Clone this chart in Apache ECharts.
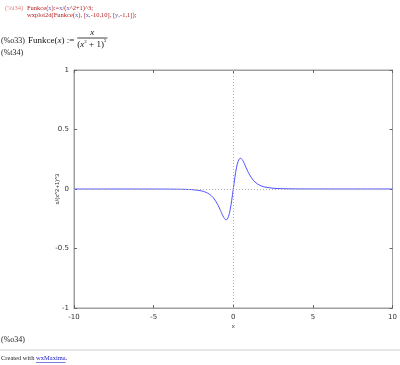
<!DOCTYPE html>
<html><head><meta charset="utf-8">
<script src="https://cdn.jsdelivr.net/npm/echarts@6/dist/echarts.min.js"></script>
<style>html,body{margin:0;padding:0;background:#fff}#c{width:400px;height:365px}</style>
</head><body><div id="c"></div>
<script>
// values
var xs = [-10,-8,-7,-6,-5,-4,-3.5,-3,-2.5,-2,-1.75,-1.5,-1.25,-1,-0.9,-0.8,-0.7,-0.6,-0.5,-0.45,-0.4,-0.3,-0.2,-0.1,0,0.1,0.2,0.3,0.4,0.45,0.5,0.6,0.7,0.8,0.9,1,1.25,1.5,1.75,2,2.5,3,3.5,4,5,6,7,8,10];
var ys = [-0.00001,-0.00003,-0.00006,-0.00012,-0.00028,-0.0008,-0.0015,-0.003,-0.0066,-0.016,-0.026,-0.0437,-0.0743,-0.125,-0.152,-0.181,-0.212,-0.2385,-0.256,-0.2588,-0.2563,-0.2317,-0.1778,-0.0971,0,0.0971,0.1778,0.2317,0.2563,0.2588,0.256,0.2385,0.212,0.181,0.152,0.125,0.0743,0.0437,0.026,0.016,0.0066,0.003,0.0015,0.0008,0.00028,0.00012,0.00006,0.00003,0.00001];
var xTicks = [-10,-5,0,5,10];
var yTicks = [-1,-0.5,0,0.5,1];

var pts = xs.map(function(x,i){return [x, ys[i]];});
var chart = echarts.init(document.getElementById('c'));
var tickLbl = {fontSize:7, color:'#333', fontFamily:'DejaVu Sans'};
var serif = 'Liberation Serif';
var ctx = document.createElement('canvas').getContext('2d');
function W(t,font){ctx.font=font; return ctx.measureText(t).width;}
function T(x,y,t,font,fill){return {type:'text', left:x, top:y, style:{text:t, font:font, fill:fill||'#111'}};}
// sequential run of text pieces: [text, font, fill, dy]
function run(x,y,parts){var out=[];parts.forEach(function(p){out.push(T(x,y+(p[3]||0),p[0],p[1],p[2]));x+=W(p[0],p[1]);});return {els:out,end:x};}
var els = [];
var r;
els.push(T(5,5,'(%i34)','6.5px '+serif,'#e08080'));
var fR='6.5px '+serif, cR='#b02020', cV='#6060d0';
r=run(27,5,[['Funkce(',fR,cR],['x',fR,cV],['):=',fR,cR],['x',fR,cV],['/(',fR,cR],['x',fR,cV],['^2+1)^3;',fR,cR]]); els=els.concat(r.els);
r=run(27,12,[['wxplot2d(Funkce(',fR,cR],['x',fR,cV],['), [',fR,cR],['x',fR,cV],[',-10,10], [',fR,cR],['y',fR,cV],[',-1,1]);',fR,cR]]); els=els.concat(r.els);
els.push(T(1,37,'(%o33)','8px '+serif,'#222'));
var fM='9px '+serif, fI='italic 9px '+serif, fS='5px '+serif;
r=run(28,36,[['Funkce(',fM],['x',fI],[') :=',fM]]); els=els.concat(r.els);
var fx0=r.end+3;
r=run(fx0,40,[['(',fM],['x',fI],['2',fS,'#111',-1],[' + 1)',fM],['3',fS,'#111',-1.5]]); els=els.concat(r.els);
var fx1=r.end+1;
els.push({type:'line', shape:{x1:fx0, y1:38, x2:fx1, y2:38}, style:{stroke:'#111', lineWidth:0.8}});
els.push(T((fx0+fx1)/2-W('x',fI)/2,28,'x',fI));
els.push(T(1,49,'(%t34)','8px '+serif,'#222'));
els.push(T(1,336,'(%o34)','8px '+serif,'#222'));
els.push({type:'line', shape:{x1:0, y1:350, x2:400, y2:350}, style:{stroke:'#ccc', lineWidth:1}});
var fC='6.5px '+serif;
r=run(1,355,[['Created with ',fC,'#222']]); els=els.concat(r.els);
var lx=r.end;
r=run(lx,355,[['wxMaxima',fC,'#2020cc'],['.',fC,'#222']]); els=els.concat(r.els);
els.push({type:'line', shape:{x1:lx, y1:362.5, x2:lx+W('wxMaxima',fC), y2:362.5}, style:{stroke:'#2020cc', lineWidth:0.6}});

chart.setOption({
  animation:false,
  grid:{left:74, top:70, right:7, bottom:57, show:true, borderColor:'#a0a0a0', borderWidth:1, backgroundColor:'transparent'},
  xAxis:[{type:'value', min:-10, max:10, interval:5, position:'bottom',
    axisLine:{show:true, onZero:false, lineStyle:{color:'#a0a0a0'}},
    axisTick:{inside:true, length:3, lineStyle:{color:'#666'}},
    axisLabel:Object.assign({margin:6}, tickLbl),
    splitLine:{show:false},
    name:'x', nameLocation:'middle', nameGap:15, nameMoveOverlap:false, nameTextStyle:{fontSize:6, color:'#333'}},
   {type:'value', min:-10, max:10, interval:5, position:'top',
    axisLine:{show:true, onZero:false, lineStyle:{color:'#a0a0a0'}},
    axisTick:{inside:true, length:3, lineStyle:{color:'#666'}},
    axisLabel:{show:false}, splitLine:{show:false}}],
  yAxis:[{type:'value', min:-1, max:1, interval:0.5, position:'left',
    axisLine:{show:true, onZero:false, lineStyle:{color:'#a0a0a0'}},
    axisTick:{inside:true, length:3, lineStyle:{color:'#666'}},
    axisLabel:Object.assign({margin:5}, tickLbl),
    splitLine:{show:false},
    name:'x/(x^2+1)^3', nameLocation:'middle', nameGap:14, nameMoveOverlap:false, nameRotate:90, nameTextStyle:{fontSize:6, color:'#333'}},
   {type:'value', min:-1, max:1, interval:0.5, position:'right',
    axisLine:{show:true, onZero:false, lineStyle:{color:'#a0a0a0'}},
    axisTick:{inside:true, length:3, lineStyle:{color:'#666'}},
    axisLabel:{show:false}, splitLine:{show:false}}],
  series:[{type:'line', data:pts, smooth:0.3, showSymbol:false, symbol:'none',
    lineStyle:{color:'#5050ff', width:1}, z:3,
    markLine:{silent:true, symbol:['none','none'], label:{show:false},
      lineStyle:{color:'#b0b0b0', type:[1,2], width:1},
      data:[{xAxis:0},{yAxis:0}]}}],
  graphic:els
});
</script></body></html>
